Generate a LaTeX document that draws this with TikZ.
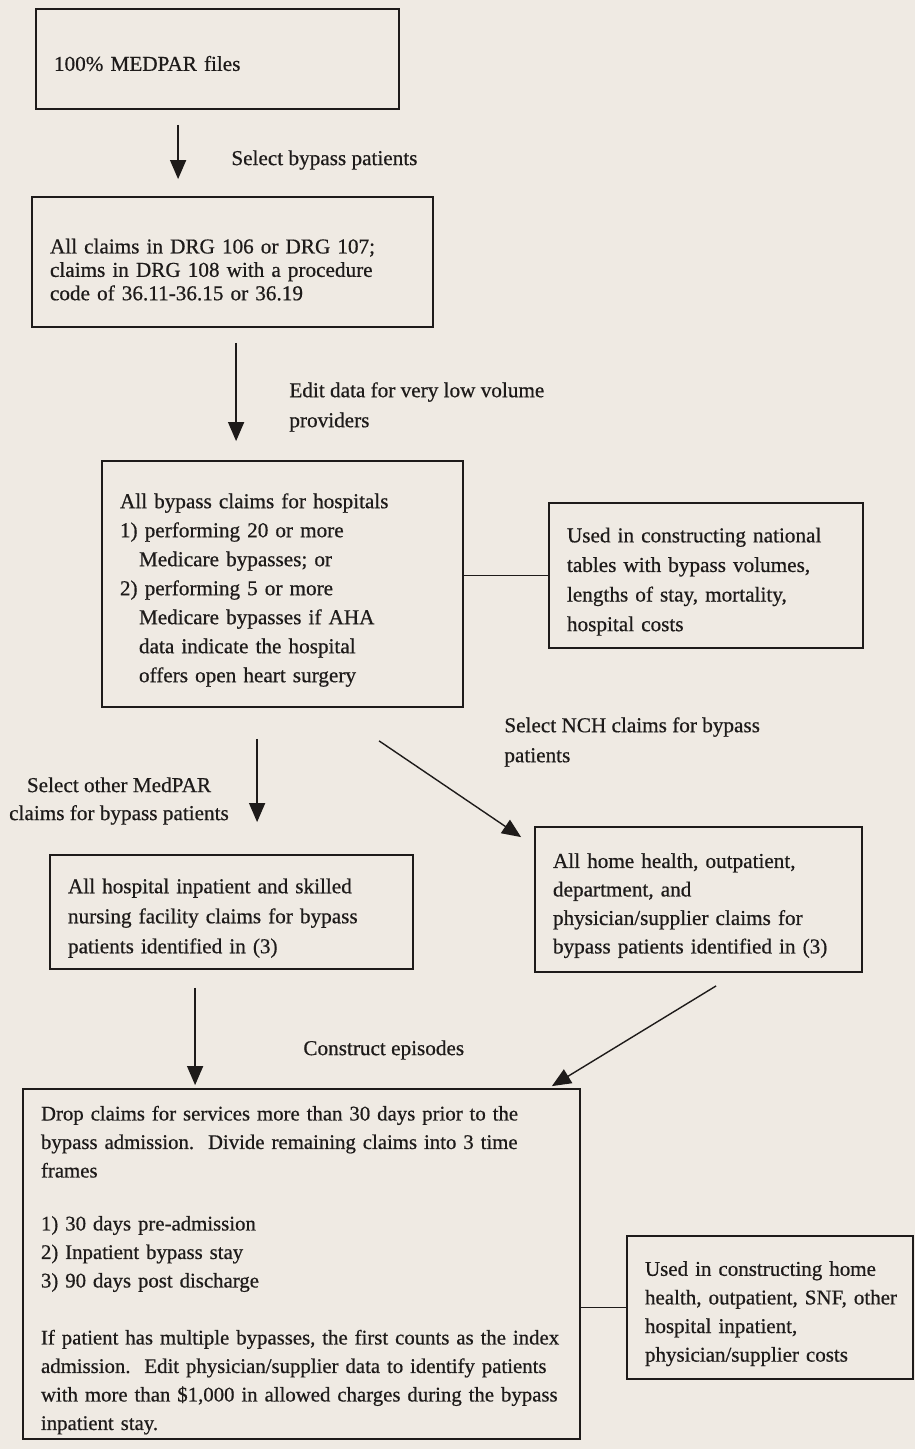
\documentclass[tikz,border=0pt]{standalone}
\usepackage{fontspec}
\setmainfont{Liberation Serif}[FakeBold=0.6]
\usetikzlibrary{arrows.meta}
\definecolor{paper}{RGB}{239,234,227}
\definecolor{ink}{RGB}{30,27,26}

\begin{document}
\begin{tikzpicture}[x=0.5pt,y=-0.5pt,
  font=\fontsize{10.6}{14.5}\selectfont, text=ink,
  box/.style={draw=ink, line width=0.9pt, align=left, inner xsep=9pt, inner ysep=0pt, text height=13.5pt},
  lbl/.style={inner sep=0pt, align=left},
  arr/.style={draw=ink, line width=0.7pt, -{Triangle[length=9.5pt,width=8pt]}}]
\fill[paper] (0,0) rectangle (915,1449);

\node[box, minimum width=181.5pt, minimum height=50pt, text width=163.5pt, text height=12pt] (medpar) at (217.5,59) {100\% MEDPAR files};
\node[box, minimum width=200.5pt, minimum height=65pt, text width=182.5pt, text height=15pt,
  font=\fontsize{10.6}{11.7}\selectfont] (drg) at (232.5,262)
  {All claims in DRG 106 or DRG 107;\\claims in DRG 108 with a procedure\\code of 36.11-36.15 or 36.19};
\node[box, minimum width=180.5pt, minimum height=123pt, text width=162.5pt] (hosp) at (282.5,584)
  {All bypass claims for hospitals\\1) performing 20 or more\\\hspace*{9.5pt}Medicare bypasses; or\\
   2) performing 5 or more\\\hspace*{9.5pt}Medicare bypasses if AHA\\\hspace*{9.5pt}data indicate the hospital\\
   \hspace*{9.5pt}offers open heart surgery};
\node[box, minimum width=157pt, minimum height=72.5pt, text width=139pt,
  font=\fontsize{10.6}{14.8}\selectfont] (natl) at (706,575.5)
  {Used in constructing national\\tables with bypass volumes,\\lengths of stay, mortality,\\hospital costs};
\node[box, minimum width=181.5pt, minimum height=57pt, text width=163.5pt,
  font=\fontsize{10.6}{15}\selectfont] (inpt) at (231.5,912)
  {All hospital inpatient and skilled\\nursing facility claims for bypass\\patients identified in (3)};
\node[box, minimum width=163.5pt, minimum height=72.5pt, text width=145.5pt,
  font=\fontsize{10.6}{14.25}\selectfont] (nch) at (698.5,899.5)
  {All home health, outpatient,\\department, and\\physician/supplier claims for\\bypass patients identified in (3)};
\node[box, minimum width=278.5pt, minimum height=175pt, text width=260.5pt, text height=15.5pt,
  font=\fontsize{10.4}{14.25}\selectfont] (epis) at (301.5,1264)
  {\begin{tabular}[t]{@{}l@{}}
   Drop claims for services more than 30 days prior to the\\bypass admission.\ \ Divide remaining claims into 3 time\\frames\\[12.25pt]
   1) 30 days pre-admission\\2) Inpatient bypass stay\\3) 90 days post discharge\\[14.25pt]
   If patient has multiple bypasses, the first counts as the index\\admission.\ \ Edit physician/supplier data to identify patients\\
   with more than \$1,000 in allowed charges during the bypass\\inpatient stay.
   \end{tabular}};
\node[box, minimum width=143pt, minimum height=71.5pt, text width=125pt, text height=15.5pt,
  font=\fontsize{10.5}{14.3}\selectfont] (cost) at (770,1307.5)
  {\begin{tabular}[t]{@{}l@{}}
   Used in constructing home\\health, outpatient, SNF, other\\hospital inpatient,\\physician/supplier costs
   \end{tabular}};

\node[lbl, anchor=west] (selbyp) at (231,160) {Select bypass patients};
\node[lbl, anchor=west, font=\fontsize{10.6}{15}\selectfont] (editlow) at (289,407) {Edit data for very low volume\\providers};
\node[lbl, align=center, font=\fontsize{10.6}{14}\selectfont] (selmed) at (119,801) {Select other MedPAR\\claims for bypass patients};
\node[lbl, anchor=west, font=\fontsize{10.6}{15}\selectfont] (selnch) at (504,742) {Select NCH claims for bypass\\patients};
\node[lbl, anchor=west] (constr) at (303,1050) {Construct episodes};

\draw[arr] ([shift={(143,15)}]medpar.south west) -- ([shift={(147,-17)}]drg.north west);
\draw[arr] ([shift={(205,15)}]drg.south west) -- ([shift={(135,-19)}]hosp.north west);
\draw[arr] ([shift={(156,31)}]hosp.south west) -- ([shift={(208,-32)}]inpt.north west);
\draw[arr] ([shift={(278,33)}]hosp.south west) -- ([shift={(-13,11)}]nch.north west);
\draw[arr] ([shift={(146,18)}]inpt.south west) -- ([shift={(173,-3)}]epis.north west);
\draw[arr] ([shift={(182,13)}]nch.south west) -- ([shift={(-29,-2)}]epis.north east);

\draw[draw=ink, line width=0.9pt] (natl.west -| hosp.east) -- (natl.west);
\draw[draw=ink, line width=0.9pt] (cost.west -| epis.east) -- (cost.west);
\end{tikzpicture}
\end{document}
